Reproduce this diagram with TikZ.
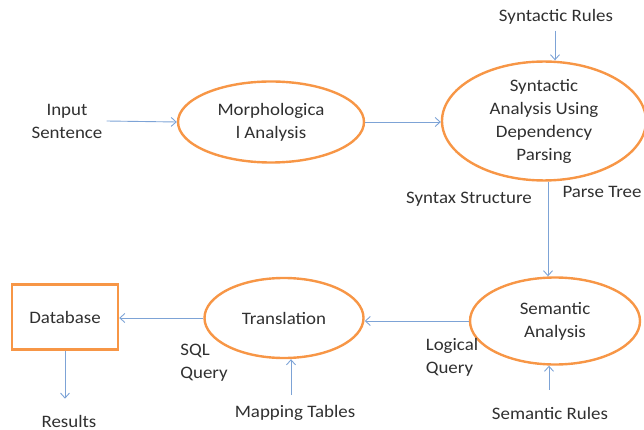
\documentclass[tikz,border=0pt]{standalone}
\usepackage{fontspec}
\setmainfont{Carlito}[FakeStretch=1.08]
\usetikzlibrary{shapes.geometric,arrows.meta}
\definecolor{ora}{HTML}{F79646}
\definecolor{arrc}{HTML}{7DA3D6}
\definecolor{txt}{HTML}{303030}
\begin{document}
\begin{tikzpicture}[x=1pt,y=-1pt,
  every node/.style={font=\fontsize{17.5}{23}\selectfont, text=txt, align=center, inner sep=0pt},
  proc/.style={ellipse, draw=ora, line width=2.4pt},
  arr/.style={draw=arrc, line width=0.9pt, -{Straight Barb[length=5pt,width=9pt,line width=0.9pt]}},
  lab/.style={}]
\useasboundingbox (0,0) rectangle (644,430);
\node[proc, minimum width=186pt, minimum height=81pt] (morph) at (271,122) {Morphologica\\l Analysis};
\node[proc, minimum width=204pt, minimum height=92pt] (syn) at (544,121) {Syntactic\\Analysis Using\\Dependency\\Parsing};
\node[proc, minimum width=170pt, minimum height=87pt] (sem) at (555,321) {Semantic\\Analysis};
\node[proc, minimum width=159pt, minimum height=80pt] (trans) at (284,318) {Translation};
\node[draw=ora, line width=2.4pt, minimum width=106pt, minimum height=65pt] (db) at (65,317) {Database};
\node[lab] (input) at (67,121) {Input\\Sentence};
\node[lab] (synrules) at (556,17) {Syntactic Rules};
\node[lab] (synstruct) at (469,199) {Syntax Structure};
\node[lab] (ptree) at (602,192) {Parse Tree};
\node[lab, align=left] (logq) at (452,357) {Logical\\Query};
\node[lab, align=left] (sqlq) at (204,363) {SQL\\Query};
\node[lab] (map) at (295,413) {Mapping Tables};
\node[lab] (semrules) at (550,413) {Semantic Rules};
\node[lab] (results) at (69,421) {Results};
\draw[arr] (input.east) ++(4,0) -- (morph.west);
\draw[arr] (morph.east) -- (syn.west |- morph.east);
\draw[arr] (synrules.south) ++(-1,6) -- (syn.north -| 555,0);
\draw[arr] (syn.south -| 548,0) -- (sem.north -| 548,0);
\draw[arr] (sem.west) -- (trans.east |- sem.west);
\draw[arr] (trans.west) -- (db.east |- trans.west);
\draw[arr] (db.south) -- ++(0,48);
\draw[arr] (map.north) ++(-4,-10) -- (trans.south -| 291,0);
\draw[arr] (semrules.north) ++(-1,-17) -- (sem.south -| 549,0);
\end{tikzpicture}
\end{document}
